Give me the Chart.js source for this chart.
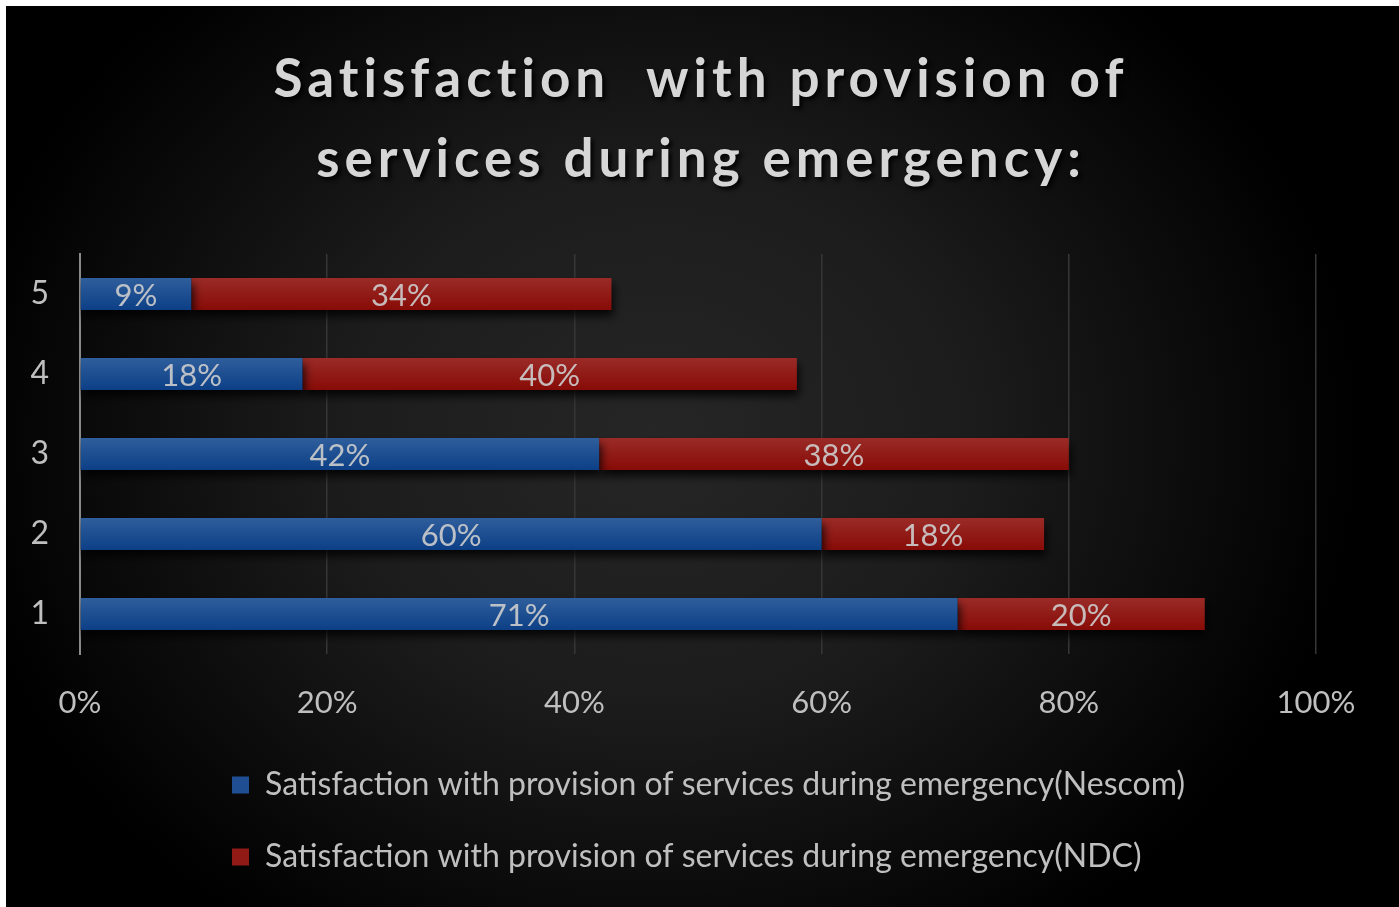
<!DOCTYPE html>
<html>
<head>
<meta charset="utf-8">
<title>Satisfaction with provision of services during emergency</title>
<script src="https://cdn.jsdelivr.net/npm/chart.js@4"></script>
<style>
  html, body { margin: 0; padding: 0; background: #ffffff; }
  #wrap { position: absolute; left: 6px; top: 6px; width: 1393px; height: 901px; }
</style>
</head>
<body>
<div id="wrap"><canvas id="chart"></canvas></div>
<script>
// Chart data
const categories = ["1", "2", "3", "4", "5"];
const nescomValues = [71, 60, 42, 18, 9];
const ndcValues = [20, 18, 38, 40, 34];
const seriesNames = [
  "Satisfaction with provision of services during emergency(Nescom)",
  "Satisfaction with provision of services during emergency(NDC)"
];
const titleLines = ["Satisfaction  with provision of", "services during emergency:"];
const xTicks = [0, 20, 40, 60, 80, 100];

const FONT = "Lato, 'Open Sans', sans-serif";
const TEXT = "#bfbfbf";

// vertical gradient for one bar, from lighter top to darker bottom
function barGradient(ctx, top, bottom) {
  const c = ctx.chart;
  if (!c.chartArea) return bottom;
  const y = c.scales.y.getPixelForValue(ctx.dataIndex);
  const g = c.ctx.createLinearGradient(0, y - 16, 0, y + 16);
  g.addColorStop(0, top);
  g.addColorStop(1, bottom);
  return g;
}

// dark radial background
const background = {
  id: "background",
  beforeDraw(chart) {
    const ctx = chart.ctx;
    const w = chart.width, h = chart.height;
    ctx.save();
    ctx.fillStyle = "#000";
    ctx.fillRect(0, 0, w, h);
    ctx.translate(650, 430);
    ctx.scale(1, 0.85);
    const g = ctx.createRadialGradient(0, 0, 0, 0, 0, 700);
    g.addColorStop(0, "#262626");
    g.addColorStop(0.45, "#1c1c1c");
    g.addColorStop(1, "#000000");
    ctx.fillStyle = g;
    ctx.fillRect(-800, -700, 1600, 1400);
    ctx.restore();

    // title with spacing and shadow
    const t = chart.titleBlock;
    if (t && !t._styled) {
      const orig = t.draw;
      t.draw = function (area) {
        const c = this.ctx;
        c.save();
        c.translate(40, 0);
        c.letterSpacing = "5px";
        c.shadowColor = "rgba(0,0,0,0.9)";
        c.shadowOffsetX = 3;
        c.shadowOffsetY = 3;
        c.shadowBlur = 4;
        orig.call(this, area);
        c.restore();
      };
      t._styled = true;
    }
    // legend rows start at the same left edge
    if (chart.legend) chart.legend.left = 186;
  }
};

// bar shadow + value labels
const barExtras = {
  id: "barExtras",
  beforeDatasetsDraw(chart) {
    const ctx = chart.ctx;
    ctx.save();
    ctx.shadowColor = "rgba(0,0,0,0.85)";
    ctx.shadowOffsetY = 6;
    ctx.shadowOffsetX = 2;
    ctx.shadowBlur = 10;
  },
  afterDatasetsDraw(chart) {
    const ctx = chart.ctx;
    ctx.restore();
    ctx.save();
    ctx.font = "31px " + FONT;
    ctx.fillStyle = "rgba(205,205,205,0.9)";
    ctx.textAlign = "center";
    ctx.textBaseline = "middle";
    chart.data.datasets.forEach((ds, di) => {
      chart.getDatasetMeta(di).data.forEach((bar, i) => {
        const p = bar.getProps(["x", "y", "base"], true);
        ctx.fillText(ds.data[i] + "%", (p.x + p.base) / 2, p.y + 2);
      });
    });
    ctx.restore();
  }
};

const chart = new Chart(document.getElementById("chart"), {
  type: "bar",
  data: {
    labels: categories,
    datasets: [
      {
        label: seriesNames[0],
        data: nescomValues,
        backgroundColor: (ctx) => barGradient(ctx, "#2f5e9c", "#0c3f86"),
        categoryPercentage: 0.5,
        barPercentage: 0.8
      },
      {
        label: seriesNames[1],
        data: ndcValues,
        backgroundColor: (ctx) => barGradient(ctx, "#9a2b27", "#880b07"),
        categoryPercentage: 0.5,
        barPercentage: 0.8
      }
    ]
  },
  options: {
    indexAxis: "y",
    responsive: true,
    maintainAspectRatio: false,
    animation: false,
    layout: { padding: { top: 0, bottom: 24, left: 0, right: 83 } },
    scales: {
      x: {
        stacked: true,
        min: 0,
        max: 100,
        afterBuildTicks: (scale) => { scale.ticks = xTicks.map(v => ({ value: v })); },
        afterFit: (scale) => { scale.height = 75; },
        grid: { color: "#363636", lineWidth: 1.5, drawTicks: false },
        border: { display: false },
        ticks: {
          color: TEXT,
          padding: 30,
          font: { family: FONT, size: 31 },
          callback: (v) => v + "%"
        }
      },
      y: {
        stacked: true,
        reverse: true,
        afterFit: (scale) => { scale.width = 74; },
        grid: { display: false, drawTicks: false },
        border: { display: true, color: "#8a8a8a", width: 2 },
        ticks: {
          color: TEXT,
          padding: 31,
          font: { family: FONT, size: 32 }
        }
      }
    },
    plugins: {
      title: {
        display: true,
        text: titleLines,
        color: "#d6d6d6",
        font: { family: FONT, size: 53, weight: "bold", lineHeight: "80px" },
        padding: { top: 34, bottom: 54 }
      },
      legend: {
        position: "bottom",
        align: "start",
        labels: {
          color: TEXT,
          font: { family: FONT, size: 32 },
          boxWidth: 17,
          boxHeight: 17,
          padding: 40,
          generateLabels: (chart) => {
            const solid = ["#1f4f92", "#911a16"];
            return chart.data.datasets.map((ds, i) => ({
              text: ds.label,
              fillStyle: solid[i],
              strokeStyle: solid[i],
              lineWidth: 0,
              fontColor: TEXT,
              datasetIndex: i,
              hidden: false
            }));
          }
        }
      },
      tooltip: { enabled: false }
    }
  },
  plugins: [background, barExtras]
});
chart.draw();
</script>
</body>
</html>
